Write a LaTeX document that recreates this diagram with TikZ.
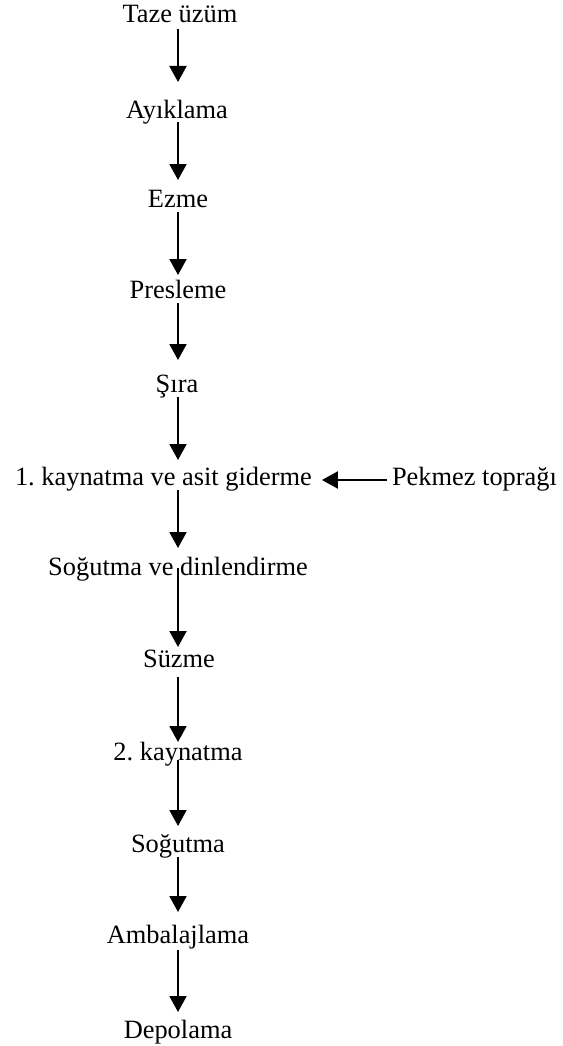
\documentclass[tikz,border=0pt]{standalone}
\usepackage{fontspec}
\setmainfont{Liberation Serif}
\usetikzlibrary{arrows.meta,calc}
\frenchspacing
\begin{document}
\begin{tikzpicture}[x=1pt,y=-1pt,
  lbl/.style={inner sep=0pt,outer sep=0pt,anchor=base,font=\fontsize{26.4}{30}\selectfont\frenchspacing},
  arr/.style={line width=2pt,-{Triangle[width=17pt,length=16pt]}}]
\useasboundingbox (0,0) rectangle (562,1046);
\coordinate (ax) at (178,0);
\node[lbl] (taze) at (180,23) {Taze üzüm};
\node[lbl] (ayik) at (177,118) {Ayıklama};
\node[lbl] (ezme) at (178,207) {Ezme};
\node[lbl] (pres) at (178,298) {Presleme};
\node[lbl] (sira) at (177,392) {Şıra};
\node[lbl,anchor=base west] (kay) at (15,485) {1. kaynatma ve asit giderme};
\node[lbl,anchor=base west] (pek) at (392,485) {Pekmez toprağı};
\node[lbl] (sogd) at (178,575) {Soğutma ve dinlendirme};
\node[lbl] (suz) at (179,667) {Süzme};
\node[lbl] (kay2) at (178,760) {2. kaynatma};
\node[lbl] (sogt) at (178,852) {Soğutma};
\node[lbl] (amb) at (178,943) {Ambalajlama};
\node[lbl] (dep) at (178,1038) {Depolama};
\draw[arr] ($(ax |- taze.base)+(0,6)$) -- ($(ax |- ayik.base)+(0,-36)$);
\draw[arr] ($(ax |- ayik.base)+(0,4)$) -- ($(ax |- ezme.base)+(0,-27)$);
\draw[arr] ($(ax |- ezme.base)+(0,5)$) -- ($(ax |- pres.base)+(0,-23)$);
\draw[arr] ($(ax |- pres.base)+(0,5)$) -- ($(ax |- sira.base)+(0,-32)$);
\draw[arr] ($(ax |- sira.base)+(0,5)$) -- ($(ax |- kay.base)+(0,-25)$);
\draw[arr] ($(ax |- kay.base)+(0,5)$) -- ($(ax |- sogd.base)+(0,-27)$);
\draw[arr] ($(ax |- sogd.base)+(0,-7)$) -- ($(ax |- suz.base)+(0,-20)$);
\draw[arr] ($(ax |- suz.base)+(0,10)$) -- ($(ax |- kay2.base)+(0,-18)$);
\draw[arr] ($(ax |- kay2.base)+(0,0)$) -- ($(ax |- sogt.base)+(0,-26)$);
\draw[arr] ($(ax |- sogt.base)+(0,5)$) -- ($(ax |- amb.base)+(0,-31)$);
\draw[arr] ($(ax |- amb.base)+(0,7)$) -- ($(ax |- dep.base)+(0,-26)$);
\draw[arr] ($(pek.base west)+(-5,-5)$) -- ($(kay.base east)+(10,-5)$);
\end{tikzpicture}
\end{document}
